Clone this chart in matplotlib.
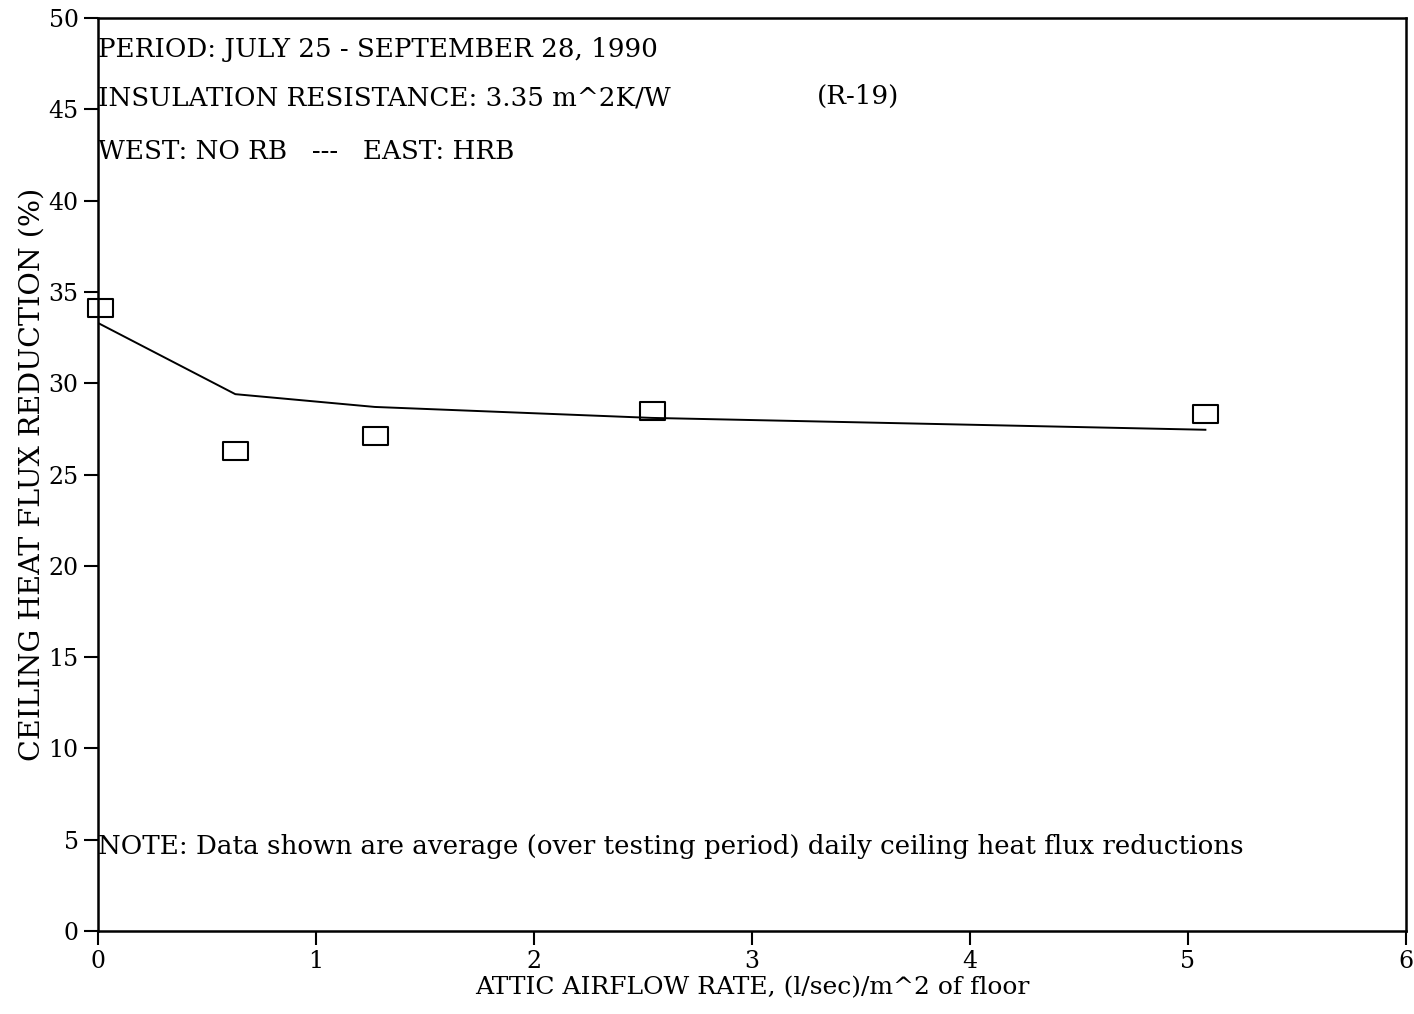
import matplotlib.pyplot as plt
from matplotlib.path import Path

# measured points (squares)
airflow = [0.01, 0.63, 1.27, 2.54, 5.08]
reduction = [34.1, 26.3, 27.1, 28.5, 28.3]

# fitted curve
fit_x = [0.0, 0.63, 1.27, 2.54, 5.08]
fit_y = [33.3, 29.4, 28.7, 28.1, 27.45]

xticks = [0, 1, 2, 3, 4, 5, 6]
yticks = [0, 5, 10, 15, 20, 25, 30, 35, 40, 45, 50]

plt.rcParams['font.family'] = ['DejaVu Serif']

fig = plt.figure(figsize=(14.14, 10.14), dpi=100)
ax = fig.add_axes([0.0693, 0.0819, 0.925, 0.9003])

# wide rectangle marker
rect = Path([(-1.4, -1), (1.4, -1), (1.4, 1), (-1.4, 1), (-1.4, -1)],
            [Path.MOVETO, Path.LINETO, Path.LINETO, Path.LINETO, Path.CLOSEPOLY])

ax.plot(fit_x, fit_y, color="black", lw=1.4)
ax.plot(airflow, reduction, linestyle="none", marker=rect, markersize=18,
        markerfacecolor="none", markeredgecolor="black", markeredgewidth=1.5,
        clip_on=False)

ax.set_xlim(0, 6)
ax.set_ylim(0, 50)
ax.set_xticks(xticks)
ax.set_yticks(yticks)
ax.tick_params(direction="out", length=10, width=1.5, labelsize=17, pad=4)
for s in ax.spines.values():
    s.set_linewidth(1.8)

ax.set_xlabel("ATTIC AIRFLOW RATE, (l/sec)/m^2 of floor", fontsize=18, labelpad=2)
ax.set_ylabel("CEILING HEAT FLUX REDUCTION (%)", fontsize=20.5, labelpad=2)

ax.text(0, 48.3, "PERIOD: JULY 25 - SEPTEMBER 28, 1990", fontsize=18.8, va="center")
ax.text(0, 45.6, "INSULATION RESISTANCE: 3.35 m^2K/W", fontsize=18.8, va="center")
ax.text(3.3, 45.7, "(R-19)", fontsize=18.8, va="center")
ax.text(0, 42.7, "WEST: NO RB   ---   EAST: HRB", fontsize=18.8, va="center")
ax.text(0, 4.6, "NOTE: Data shown are average (over testing period) daily ceiling heat flux reductions",
        fontsize=18.8, va="center")

plt.savefig("out.png", dpi=100)
